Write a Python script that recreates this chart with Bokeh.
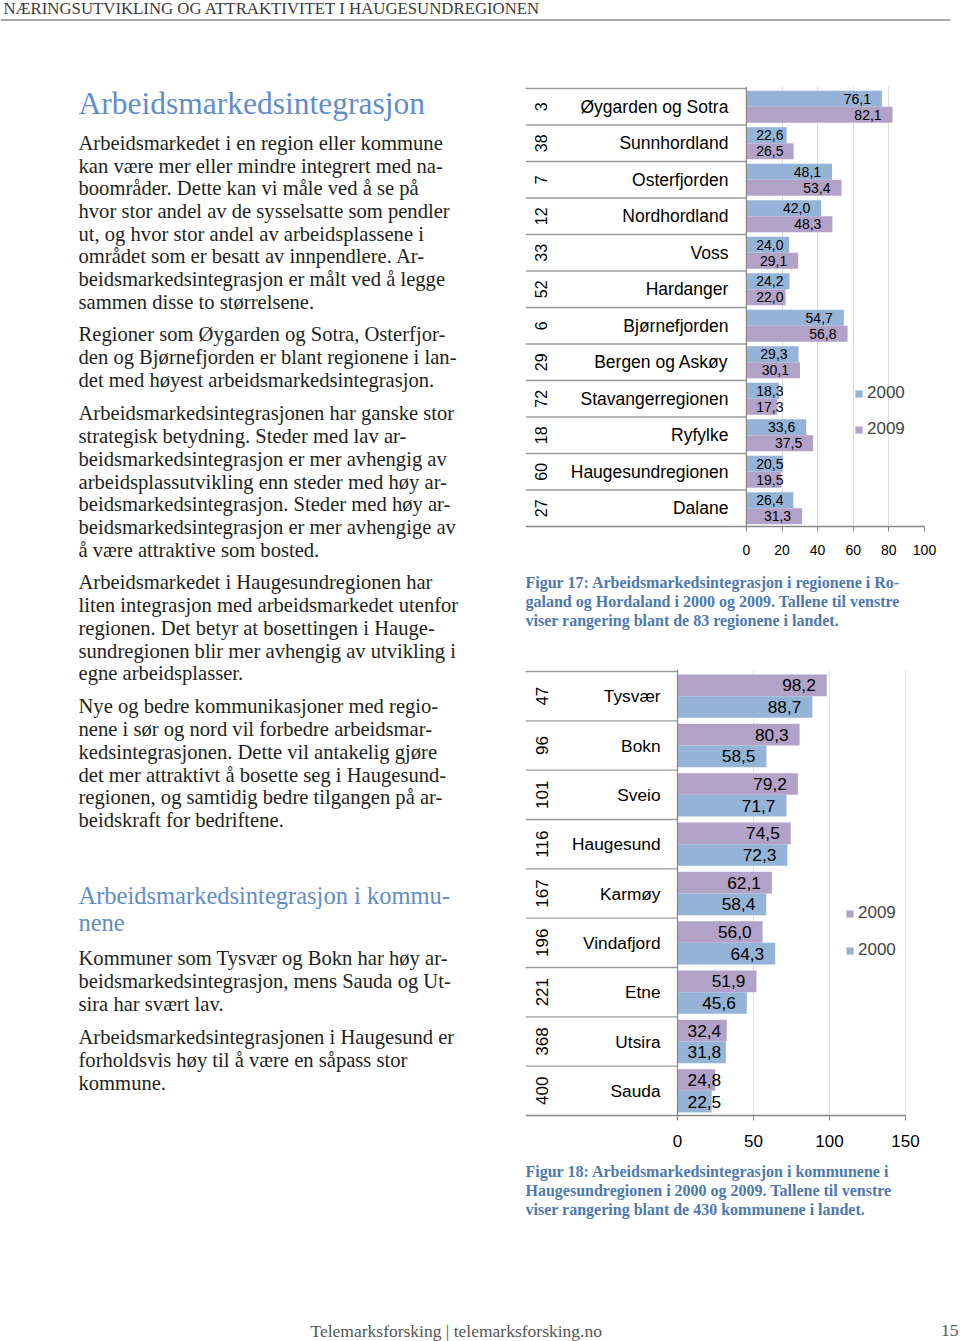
import numpy as np
from bokeh.plotting import figure
from bokeh.models import Range1d, ColumnDataSource, FixedTicker, Span, Legend, LegendItem
from bokeh.layouts import column, row
from bokeh.transform import dodge
from bokeh.core.properties import value
from bokeh.embed import file_html
from bokeh.resources import INLINE

# ---------------- data ----------------
regions = ["Øygarden og Sotra", "Sunnhordland", "Osterfjorden", "Nordhordland", "Voss",
           "Hardanger", "Bjørnefjorden", "Bergen og Askøy", "Stavangerregionen", "Ryfylke",
           "Haugesundregionen", "Dalane"]
region_rank = ["3", "38", "7", "12", "33", "52", "6", "29", "72", "18", "60", "27"]
region_2000 = [76.1, 22.6, 48.1, 42.0, 24.0, 24.2, 54.7, 29.3, 18.3, 33.6, 20.5, 26.4]
region_2009 = [82.1, 26.5, 53.4, 48.3, 29.1, 22.0, 56.8, 30.1, 17.3, 37.5, 19.5, 31.3]
region_ticks = [0, 20, 40, 60, 80, 100]

kommuner = ["Tysvær", "Bokn", "Sveio", "Haugesund", "Karmøy", "Vindafjord", "Etne", "Utsira", "Sauda"]
kommune_rank = ["47", "96", "101", "116", "167", "196", "221", "368", "400"]
kommune_2009 = [98.2, 80.3, 79.2, 74.5, 62.1, 56.0, 51.9, 32.4, 24.8]
kommune_2000 = [88.7, 58.5, 71.7, 72.3, 58.4, 64.3, 45.6, 31.8, 22.5]
kommune_ticks = [0, 50, 100, 150]

header_text = "NÆRINGSUTVIKLING OG ATTRAKTIVITET I HAUGESUNDREGIONEN"
title1 = "Arbeidsmarkedsintegrasjon"
title2 = ["Arbeidsmarkedsintegrasjon i kommu-", "nene"]
paragraphs = [
    ["Arbeidsmarkedet i en region eller kommune",
     "kan være mer eller mindre integrert med na-",
     "boområder. Dette kan vi måle ved å se på",
     "hvor stor andel av de sysselsatte som pendler",
     "ut, og hvor stor andel av arbeidsplassene i",
     "området som er besatt av innpendlere. Ar-",
     "beidsmarkedsintegrasjon er målt ved å legge",
     "sammen disse to størrelsene."],
    ["Regioner som Øygarden og Sotra, Osterfjor-",
     "den og Bjørnefjorden er blant regionene i lan-",
     "det med høyest arbeidsmarkedsintegrasjon."],
    ["Arbeidsmarkedsintegrasjonen har ganske stor",
     "strategisk betydning.  Steder med lav ar-",
     "beidsmarkedsintegrasjon er mer avhengig av",
     "arbeidsplassutvikling enn steder med høy ar-",
     "beidsmarkedsintegrasjon. Steder med høy ar-",
     "beidsmarkedsintegrasjon er mer avhengige av",
     "å være attraktive som bosted."],
    ["Arbeidsmarkedet i Haugesundregionen har",
     "liten integrasjon med arbeidsmarkedet utenfor",
     "regionen. Det betyr at bosettingen i Hauge-",
     "sundregionen blir mer avhengig av utvikling i",
     "egne arbeidsplasser."],
    ["Nye og bedre kommunikasjoner med regio-",
     "nene i sør og nord vil forbedre arbeidsmar-",
     "kedsintegrasjonen. Dette vil antakelig gjøre",
     "det mer attraktivt å bosette seg i Haugesund-",
     "regionen, og samtidig bedre tilgangen på ar-",
     "beidskraft for bedriftene."],
    ["Kommuner som Tysvær og Bokn har høy ar-",
     "beidsmarkedsintegrasjon, mens Sauda og Ut-",
     "sira har svært lav."],
    ["Arbeidsmarkedsintegrasjonen i Haugesund er",
     "forholdsvis høy til å være en såpass stor",
     "kommune."],
]
caption1 = ["Figur 17: Arbeidsmarkedsintegrasjon i regionene i Ro-",
            "galand og Hordaland i 2000 og 2009. Tallene til venstre",
            "viser rangering blant de 83 regionene i landet."]
caption2 = ["Figur 18: Arbeidsmarkedsintegrasjon i kommunene i",
            "Haugesundregionen i 2000 og 2009. Tallene til venstre",
            "viser rangering blant de 430 kommunene i landet."]
footer_text = "Telemarksforsking  |  telemarksforsking.no"
page_no = "15"

# ---------------- styles ----------------
SERIF = value("Liberation Serif")
SANS = value("Liberation Sans")
BLUE = "#95B3D7"
PURPLE = "#B3A2C7"
HEAD_BLUE = "#5F8DC8"
CAP_BLUE = "#4D79B0"
BODY = "#231F20"
TABLE_LINE = "#9C9C9C"
AXIS_LINE = "#868686"

# right column: left border 5, right border 36 -> frame x 525..924 (page px)
RB_LEFT, RB_RIGHT = 5, 36


def fmt(v):
    return f"{v:.1f}".replace(".", ",")


def text_fig(w, h, x0, x1, y0, y1, bl=0, br=0):
    f = figure(width=w, height=h, x_range=Range1d(x0, x1), y_range=Range1d(y1, y0),
               x_axis_type=None, y_axis_type=None, toolbar_location=None,
               output_backend="svg", min_border_left=bl, min_border_right=br,
               min_border_top=0, min_border_bottom=0, outline_line_color=None)
    return f


def add_lines(f, lines, x, baseline0, step, size, color, style="normal", align="left"):
    # y given as text baseline; drawn with middle baseline at (baseline - 0.34 em)
    ys = [baseline0 + i * step - 0.34 * size for i in range(len(lines))]
    f.text(x=[x] * len(lines), y=ys, text=lines, text_font=SERIF, text_font_size=f"{size}px",
           text_color=color, text_baseline="middle", text_align=align,
           text_font_style=style)


# ---------------- header ----------------
header = text_fig(960, 80, 0, 960, 0, 80)
add_lines(header, [header_text], 3, 14, 0, 16.8, "#3C3C3C")
header.segment(x0=[0], x1=[950], y0=[19.5], y1=[19.5], line_color="#A8A8A8", line_width=2)

# ---------------- left text column ----------------
left = text_fig(520, 1230, 0, 520, 80, 1310)
add_lines(left, [title1], 78, 114, 0, 31.5, HEAD_BLUE)
para_starts = [149.5, 341, 420, 589, 713, 965, 1044]
for lines, y0 in zip(paragraphs[:5], para_starts[:5]):
    add_lines(left, lines, 78, y0, 22.7, 20.6, BODY)
add_lines(left, title2, 78, 903, 27.5, 24.5, HEAD_BLUE)
for lines, y0 in zip(paragraphs[5:], para_starts[5:]):
    add_lines(left, lines, 78, y0, 22.7, 20.6, BODY)


# ---------------- chart helper ----------------
def bar_chart(names, ranks, top_vals, bot_vals, top_col, bot_col, top_lab, bot_lab,
              ticks, xstart, xend, width, height, mb_top, mb_bottom,
              row_px, val_size, name_size, rank_size, tick_size, name_off, rank_off,
              label_min, legend_xy, legend_spacing, grid_color, standoff):
    n = len(names)
    pad = 2.0 / row_px
    p = figure(width=width, height=height, x_range=Range1d(xstart, xend),
               y_range=Range1d(n - 0.5 + pad, -0.5 - pad), y_axis_type=None,
               toolbar_location=None, output_backend="svg",
               min_border_left=RB_LEFT, min_border_right=RB_RIGHT,
               min_border_top=mb_top, min_border_bottom=mb_bottom,
               outline_line_color=None)
    src = ColumnDataSource(dict(
        idx=np.arange(n), name=names, rank=ranks,
        top=top_vals, bot=bot_vals,
        top_l=[fmt(v) for v in top_vals], bot_l=[fmt(v) for v in bot_vals],
        top_x=np.maximum(np.array(top_vals), label_min),
        bot_x=np.maximum(np.array(bot_vals), label_min),
    ))
    half = 0.22
    r_top = p.hbar(y=dodge("idx", -half, range=p.y_range), left=0, right="top", height=2 * half,
                   fill_color=top_col, line_color=None, source=src)
    r_bot = p.hbar(y=dodge("idx", half, range=p.y_range), left=0, right="bot", height=2 * half,
                   fill_color=bot_col, line_color=None, source=src)
    for col_x, col_l, sign in (("top_x", "top_l", -1), ("bot_x", "bot_l", 1)):
        p.text(x=col_x, y=dodge("idx", sign * half, range=p.y_range), text=col_l, source=src,
               text_align="right", text_baseline="middle", x_offset=-11,
               text_font=SANS, text_font_size=val_size, text_color="#000000")
    p.text(x=0, y="idx", text="name", source=src, x_offset=name_off, text_align="right",
           text_baseline="middle", text_font=SANS, text_font_size=name_size, text_color="#000000")
    p.text(x=0, y="idx", text="rank", source=src, x_offset=rank_off, angle=np.pi / 2,
           text_align="center", text_baseline="middle", text_font=SANS,
           text_font_size=rank_size, text_color="#000000")
    # table row separators (top line .. last separator)
    bsrc = ColumnDataSource(dict(y=np.arange(n) - 0.5))
    p.segment(x0=xstart, x1=0, y0="y", y1="y", source=bsrc, line_color=TABLE_LINE, line_width=1.3)
    # bottom line of table + value axis
    p.segment(x0=[xstart], x1=[ticks[-1]], y0=[n - 0.5], y1=[n - 0.5],
              line_color=AXIS_LINE, line_width=1.3)
    p.add_layout(Span(location=0, dimension="height", line_color=AXIS_LINE, line_width=1.2))
    ax = p.xaxis[0]
    ax.ticker = FixedTicker(ticks=ticks)
    ax.axis_line_color = None
    ax.major_tick_line_color = AXIS_LINE
    ax.major_tick_out = 3
    ax.major_tick_in = 2
    ax.minor_tick_line_color = None
    ax.major_label_standoff = standoff
    ax.major_label_text_font = "Liberation Sans"
    ax.major_label_text_font_size = tick_size
    ax.major_label_text_color = "#000000"
    p.xgrid.ticker = FixedTicker(ticks=ticks)
    p.xgrid.grid_line_color = grid_color
    p.xgrid.grid_line_width = 1
    legend = Legend(items=[LegendItem(label=top_lab, renderers=[r_top]),
                           LegendItem(label=bot_lab, renderers=[r_bot])],
                    location=legend_xy, orientation="vertical", padding=0, margin=0,
                    spacing=legend_spacing, glyph_width=9, glyph_height=9, label_standoff=4,
                    label_text_font="Liberation Sans", label_text_font_size="17px",
                    background_fill_alpha=0, border_line_alpha=0)
    p.add_layout(legend)
    return p


# chart 1: page y 80..565; frame x 525..924 (0 at 746, 1.78 px/unit), y 86..528
c1 = bar_chart(regions, region_rank, region_2000, region_2009, BLUE, PURPLE, "2000", "2009",
               region_ticks, -124, 100, 440, 485, 6, 37, 438 / 12,
               "14px", "17.5px", "16px", "14px", -18, -205, 27, (329, 89), 16, "#DCDCDC", 13)

# chart 2: page y 660..1160; frame x 525..924 (0 at 677, 1.52 px/unit), y 669..1117
c2 = bar_chart(kommuner, kommune_rank, kommune_2009, kommune_2000, PURPLE, BLUE, "2009", "2000",
               kommune_ticks, -100, 162.5, 440, 500, 9, 43, 444 / 9,
               "17.3px", "17.3px", "17px", "17px", -17, -136, 36, (320, 157), 17, "#DCE3EC", 14)

cap1 = text_fig(440, 95, 525, 924, 565, 660, RB_LEFT, RB_RIGHT)
add_lines(cap1, caption1, 525, 587, 19, 16, CAP_BLUE, style="bold")
cap2 = text_fig(440, 150, 525, 924, 1160, 1310, RB_LEFT, RB_RIGHT)
add_lines(cap2, caption2, 525, 1176, 19, 16, CAP_BLUE, style="bold")

footer = text_fig(960, 31, 0, 960, 1310, 1341)
add_lines(footer, [footer_text], 310, 1336, 0, 17.5, "#555555")
add_lines(footer, [page_no], 958, 1336, 0, 17.5, "#555555", align="right")

layout = column(header, row(left, column(c1, cap1, c2, cap2)), footer)

open("out.html", "w").write(file_html(layout, INLINE))
